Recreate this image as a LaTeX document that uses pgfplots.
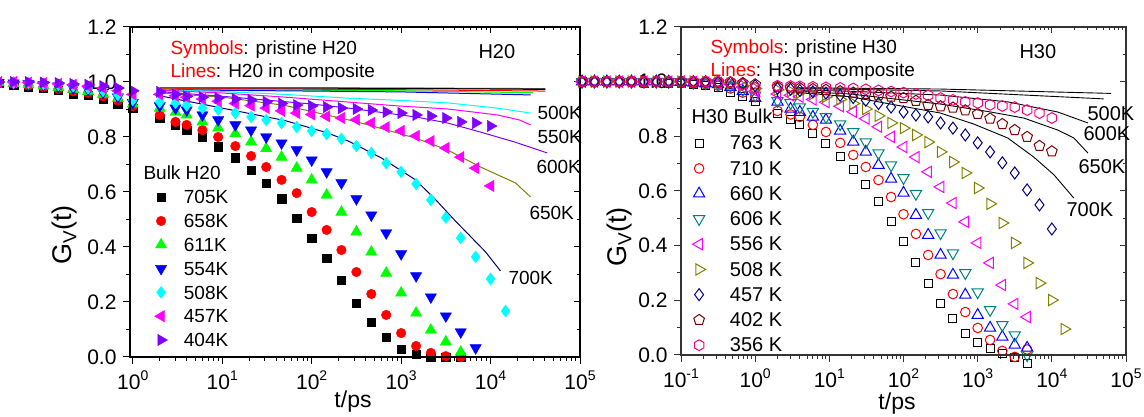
\documentclass[border=0pt]{standalone}
\usepackage{fontspec}
\setmainfont{Liberation Sans}
\usepackage{pgfplots}
\pgfplotsset{compat=1.18}
\usetikzlibrary{plotmarks}

\definecolor{violetO}{RGB}{128,0,255}
\definecolor{tealO}{RGB}{0,128,128}
\definecolor{oliveO}{RGB}{128,128,0}
\definecolor{navyO}{RGB}{0,0,128}
\definecolor{wineO}{RGB}{128,0,0}
\definecolor{pinkO}{RGB}{255,0,128}
\definecolor{greenO}{RGB}{0,255,0}
\definecolor{cyanO}{RGB}{0,255,255}
\definecolor{magO}{RGB}{255,0,255}

% open hexagon marker
\pgfdeclareplotmark{hexagon}{%
  \pgfpathmoveto{\pgfqpointpolar{90}{\pgfplotmarksize}}%
  \pgfpathlineto{\pgfqpointpolar{150}{\pgfplotmarksize}}%
  \pgfpathlineto{\pgfqpointpolar{210}{\pgfplotmarksize}}%
  \pgfpathlineto{\pgfqpointpolar{270}{\pgfplotmarksize}}%
  \pgfpathlineto{\pgfqpointpolar{330}{\pgfplotmarksize}}%
  \pgfpathlineto{\pgfqpointpolar{30}{\pgfplotmarksize}}%
  \pgfpathclose\pgfusepathqstroke}

\newcommand\fTick{\fontsize{21bp}{21bp}\selectfont}
\newcommand\fLeg{\fontsize{19bp}{19bp}\selectfont}
\newcommand\fLegR{\fontsize{20bp}{20bp}\selectfont}
\newcommand\fLab{\fontsize{23bp}{23bp}\selectfont}
\newcommand\fYLab{\fontsize{27bp}{27bp}\selectfont}
\newcommand\dec[1]{10\raisebox{9.5bp}{\fontsize{14bp}{14bp}\selectfont #1}}

\begin{document}
\begin{tikzpicture}
\useasboundingbox (0,0) rectangle (1144bp,417bp);

% ---------------- left panel: H20 ----------------
\begin{axis}[scale only axis, xmode=log, clip=false,
  at={(130bp,60bp)}, anchor=south west,
  width=450bp, height=330bp, xmin=0.93, xmax=1e5, ymin=0, ymax=1.2,
  axis line style={line width=1.3bp},
  every tick/.style={black, line width=1bp},
  major tick length=7bp, minor tick length=4bp,
  xtick pos=left, ytick pos=left, tick align=outside,
  ytick={0,0.2,0.4,0.6,0.8,1.0,1.2},
  minor ytick={0.1,0.3,0.5,0.7,0.9,1.1},
  yticklabels={0.0,0.2,0.4,0.6,0.8,1.0,1.2},
  xtick={1,10,100,1000,10000,100000},
  xticklabels={\dec{0},\dec{1},\dec{2},\dec{3},\dec{4},\dec{5}},
  minor xtick={2,3,4,5,6,7,8,9,20,30,40,50,60,70,80,90,200,300,400,500,600,700,800,900,2000,3000,4000,5000,6000,7000,8000,9000,20000,30000,40000,50000,60000,70000,80000,90000},
  tick label style={font=\fTick},
  xticklabel style={yshift=-3bp}, yticklabel style={xshift=-3bp},
  legend cell align=left,
  legend style={at={(0.0542,0.5067)}, anchor=north west, draw=none, fill=none,
    inner sep=0pt, font=\fLeg, row sep=4.8bp, column sep=16.3bp,
    nodes={inner sep=0pt, text height=14bp, text depth=5bp}},
  legend image post style={yshift=2.3bp}]

\addplot[only marks, mark=square*, mark size=4.2bp, black] coordinates {
(0.0316,0.995)(0.0464,0.99)(0.0681,0.98)(0.1,0.978)(0.147,0.971)(0.215,0.955)(0.316,0.953)(0.464,0.937)(0.681,0.92)(1,0.904)
(2,0.869)(3,0.844)(4,0.825)(6,0.80)(9,0.764)(14,0.724)(21,0.68)(31,0.633)(46,0.575)(68,0.505)(100,0.433)(147,0.36)(215,0.28)(316,0.196)(464,0.127)(681,0.073)(1000,0.029)(1470,0.011)(2150,0.0)(3160,0.0)(4640,0.0)};
\addlegendentry{705K}
\addplot[only marks, mark=*, mark size=4.8bp, red] coordinates {
(0.0316,0.997)(0.0464,0.993)(0.0681,0.987)(0.1,0.982)(0.147,0.975)(0.215,0.966)(0.316,0.96)(0.464,0.948)(0.681,0.933)(1,0.912)
(2,0.88)(3,0.855)(4,0.844)(6,0.825)(9,0.80)(14,0.767)(21,0.731)(31,0.691)(46,0.644)(68,0.596)(100,0.527)(147,0.462)(215,0.389)(316,0.309)(464,0.229)(681,0.153)(1000,0.087)(1470,0.04)(2150,0.015)(3160,0.003)(4640,0.0)};
\addlegendentry{658K}
\addplot[only marks, mark=triangle*, mark size=6.5bp, greenO] coordinates {
(0.0316,0.998)(0.0464,0.995)(0.0681,0.99)(0.1,0.986)(0.147,0.98)(0.215,0.973)(0.316,0.966)(0.464,0.956)(0.681,0.94)(1,0.92)
(2,0.905)(3,0.89)(4,0.88)(6,0.855)(9,0.833)(14,0.812)(21,0.782)(31,0.758)(46,0.727)(68,0.687)(100,0.644)(147,0.589)(215,0.527)(316,0.455)(464,0.382)(681,0.305)(1000,0.233)(1470,0.16)(2150,0.098)(3160,0.055)(4640,0.018)};
\addlegendentry{611K}
\addplot[only marks, mark=triangle*, mark size=6.5bp, mark options={rotate=180}, blue] coordinates {
(0.0316,0.998)(0.0464,0.996)(0.0681,0.993)(0.1,0.99)(0.147,0.985)(0.215,0.978)(0.316,0.972)(0.464,0.962)(0.681,0.945)(1,0.925)
(2,0.913)(3,0.905)(4,0.898)(6,0.88)(9,0.862)(14,0.844)(21,0.825)(31,0.80)(46,0.778)(68,0.753)(100,0.716)(147,0.673)(215,0.633)(316,0.575)(464,0.516)(681,0.451)(1000,0.375)(1470,0.295)(2150,0.218)(3160,0.149)(4640,0.091)(6810,0.033)};
\addlegendentry{554K}
\addplot[only marks, mark=diamond*, mark size=6bp, cyanO] coordinates {
(0.0316,1.0)(0.0464,0.998)(0.0681,0.996)(0.1,0.993)(0.147,0.99)(0.215,0.985)(0.316,0.978)(0.464,0.968)(0.681,0.953)(1,0.935)
(2,0.927)(3,0.924)(4,0.915)(6,0.905)(9,0.9)(14,0.887)(21,0.873)(31,0.862)(46,0.851)(68,0.836)(100,0.822)(147,0.811)(215,0.793)(316,0.767)(464,0.742)(681,0.705)(1000,0.673)(1470,0.629)(2150,0.571)(3160,0.507)(4640,0.433)(6810,0.364)(10000,0.284)(14700,0.167)};
\addlegendentry{508K}
\addplot[only marks, mark=triangle*, mark size=6.5bp, mark options={rotate=90}, magO] coordinates {
(0.0316,1.0)(0.0464,1.0)(0.0681,0.998)(0.1,0.996)(0.147,0.993)(0.215,0.99)(0.316,0.985)(0.464,0.978)(0.681,0.968)(1,0.955)
(2,0.955)(3,0.95)(4,0.945)(6,0.938)(9,0.93)(14,0.922)(21,0.914)(31,0.905)(46,0.895)(68,0.887)(100,0.882)(147,0.875)(215,0.869)(316,0.863)(464,0.851)(681,0.836)(1000,0.822)(1470,0.804)(2150,0.785)(3160,0.76)(4640,0.727)(6810,0.687)(10000,0.622)};
\addlegendentry{457K}
\addplot[only marks, mark=triangle*, mark size=6.5bp, mark options={rotate=-90}, violetO] coordinates {
(0.0316,1.0)(0.0464,1.0)(0.0681,1.0)(0.1,0.998)(0.147,0.996)(0.215,0.993)(0.316,0.99)(0.464,0.985)(0.681,0.978)(1,0.968)
(2,0.964)(3,0.955)(4,0.948)(6,0.945)(9,0.942)(14,0.938)(21,0.935)(31,0.928)(46,0.922)(68,0.916)(100,0.913)(147,0.909)(215,0.905)(316,0.902)(464,0.898)(681,0.891)(1000,0.887)(1470,0.88)(2150,0.876)(3160,0.869)(4640,0.855)(6810,0.851)(10000,0.84)};
\addlegendentry{404K}

% composite curves
\addplot[forget plot, no marks, black!70, line width=1bp] coordinates {(2,0.979)(1000,0.978)(41000,0.976)};
\addplot[forget plot, no marks, black, line width=1bp] coordinates {(2,0.978)(1000,0.977)(41000,0.973)};
\addplot[forget plot, no marks, red, line width=1bp] coordinates {(2,0.976)(1000,0.972)(41000,0.967)};
\addplot[forget plot, no marks, greenO, line width=1bp] coordinates {(2,0.974)(1000,0.968)(30000,0.961)};
\addplot[forget plot, no marks, blue, line width=1bp] coordinates {(2,0.972)(1000,0.964)(28000,0.953)};
\addplot[forget plot, no marks, cyanO, line width=1bp] coordinates {(2,0.972)(10,0.965)(50,0.955)(258,0.941)(1000,0.933)(3300,0.924)(12000,0.905)(28000,0.887)};
\addplot[forget plot, no marks, magO, line width=1bp] coordinates {(2,0.97)(10,0.96)(50,0.945)(258,0.927)(920,0.913)(3300,0.902)(12000,0.88)(21000,0.862)(28000,0.844)};
\addplot[forget plot, no marks, violetO, line width=1bp] coordinates {(2,0.965)(10,0.948)(100,0.92)(258,0.905)(1450,0.873)(3300,0.851)(7700,0.818)(18500,0.782)(43000,0.742)};
\addplot[forget plot, no marks, oliveO, line width=1bp] coordinates {(2,0.96)(10,0.945)(50,0.915)(258,0.862)(430,0.844)(1450,0.796)(3300,0.753)(7700,0.691)(19000,0.633)(28000,0.582)};
\addplot[forget plot, no marks, navyO, line width=1bp] coordinates {(2,0.95)(10,0.905)(50,0.86)(150,0.815)(258,0.785)(600,0.724)(1450,0.644)(2450,0.571)(3950,0.498)(8800,0.382)(12900,0.313)};
\end{axis}
% inward ticks on the top and right edges
\begin{axis}[scale only axis, xmode=log,
  at={(130bp,60bp)}, anchor=south west,
  width=450bp, height=330bp, xmin=0.93, xmax=1e5, ymin=0, ymax=1.2,
  axis line style={line width=1.3bp},
  every tick/.style={black, line width=1bp},
  major tick length=6bp, minor tick length=3bp,
  xtick pos=right, ytick pos=right, tick align=inside,
  ytick={0,0.2,0.4,0.6,0.8,1.0,1.2},
  minor ytick={0.1,0.3,0.5,0.7,0.9,1.1},
  xtick={1,10,100,1000,10000,100000},
  minor xtick={2,3,4,5,6,7,8,9,20,30,40,50,60,70,80,90,200,300,400,500,600,700,800,900,2000,3000,4000,5000,6000,7000,8000,9000,20000,30000,40000,50000,60000,70000,80000,90000},
  xticklabels={}, yticklabels={}]
\end{axis}

% ---------------- right panel: H30 ----------------
\begin{axis}[scale only axis, xmode=log, clip=false,
  at={(681bp,62bp)}, anchor=south west,
  width=445bp, height=328bp, xmin=0.1, xmax=1e5, ymin=0, ymax=1.2,
  axis line style={line width=1.3bp, black!80},
  every tick/.style={black!80, line width=1bp},
  major tick length=7bp, minor tick length=4bp,
  xtick pos=left, ytick pos=left, tick align=outside,
  ytick={0,0.2,0.4,0.6,0.8,1.0,1.2},
  minor ytick={0.1,0.3,0.5,0.7,0.9,1.1},
  yticklabels={0.0,0.2,0.4,0.6,0.8,1.0,1.2},
  xtick={0.1,1,10,100,1000,10000,100000},
  xticklabels={\dec{-1},\dec{0},\dec{1},\dec{2},\dec{3},\dec{4},\dec{5}},
  minor xtick={0.2,0.3,0.4,0.5,0.6,0.7,0.8,0.9,2,3,4,5,6,7,8,9,20,30,40,50,60,70,80,90,200,300,400,500,600,700,800,900,2000,3000,4000,5000,6000,7000,8000,9000,20000,30000,40000,50000,60000,70000,80000,90000},
  tick label style={font=\fTick},
  xticklabel style={yshift=-3bp}, yticklabel style={xshift=-3bp},
  legend cell align=left,
  legend style={at={(0.0256,0.6683)}, anchor=north west, draw=none, fill=none,
    inner sep=0pt, font=\fLegR, row sep=6.25bp, column sep=24.3bp,
    nodes={inner sep=0pt, text height=14bp, text depth=5bp}},
  legend image post style={yshift=2.3bp}]

\addplot[only marks, line width=1bp, mark=square, mark size=4bp, black] coordinates {
(0.00464,1.0)(0.00681,1.0)(0.01,1.0)(0.0147,1.0)(0.0215,1.0)(0.0316,0.998)(0.0464,0.997)(0.0681,0.995)(0.1,0.993)(0.147,0.99)(0.215,0.985)(0.316,0.977)(0.464,0.962)(0.681,0.944)(1,0.926)
(2,0.885)(3,0.86)(4,0.842)(6,0.812)(9,0.772)(14,0.725)(21,0.677)(31,0.622)(46,0.56)(68,0.49)(100,0.417)(147,0.34)(215,0.26)(316,0.19)(464,0.132)(681,0.08)(1000,0.044)(1470,0.022)(2150,0.007)(3160,-0.01)(4640,-0.03)};
\addlegendentry{763 K}
\addplot[only marks, line width=1bp, mark=o, mark size=4.8bp, red] coordinates {
(0.00464,1.0)(0.00681,1.0)(0.01,1.0)(0.0147,1.0)(0.0215,1.0)(0.0316,1.0)(0.0464,0.999)(0.0681,0.998)(0.1,0.996)(0.147,0.993)(0.215,0.99)(0.316,0.985)(0.464,0.975)(0.681,0.96)(1,0.945)
(2,0.893)(3,0.88)(4,0.871)(6,0.842)(9,0.816)(14,0.776)(21,0.732)(31,0.688)(46,0.64)(68,0.578)(100,0.515)(147,0.443)(215,0.366)(316,0.296)(464,0.223)(681,0.157)(1000,0.099)(1470,0.055)(2150,0.015)(3160,-0.007)(4640,0.02)};
\addlegendentry{710 K}
\addplot[only marks, line width=1bp, mark=triangle, mark size=6.5bp, blue] coordinates {
(0.00464,1.0)(0.00681,1.0)(0.01,1.0)(0.0147,1.0)(0.0215,1.0)(0.0316,1.0)(0.0464,1.0)(0.0681,0.999)(0.1,0.998)(0.147,0.996)(0.215,0.993)(0.316,0.99)(0.464,0.98)(0.681,0.965)(1,0.94)
(2,0.926)(3,0.9)(4,0.889)(6,0.871)(9,0.86)(14,0.82)(21,0.78)(31,0.743)(46,0.695)(68,0.644)(100,0.593)(147,0.512)(215,0.439)(316,0.366)(464,0.293)(681,0.22)(1000,0.146)(1470,0.099)(2150,0.066)(3160,0.037)(4640,0.026)};
\addlegendentry{660 K}
\addplot[only marks, line width=1bp, mark=triangle, mark size=6.5bp, mark options={rotate=180}, tealO] coordinates {
(0.00464,1.0)(0.00681,1.0)(0.01,1.0)(0.0147,1.0)(0.0215,1.0)(0.0316,1.0)(0.0464,1.0)(0.0681,1.0)(0.1,0.999)(0.147,0.997)(0.215,0.995)(0.316,0.99)(0.464,0.985)(0.681,0.97)(1,0.95)
(2,0.93)(3,0.922)(4,0.907)(6,0.89)(9,0.871)(14,0.845)(21,0.816)(31,0.779)(46,0.739)(68,0.695)(100,0.648)(147,0.59)(215,0.52)(316,0.446)(464,0.373)(681,0.3)(1000,0.23)(1470,0.165)(2150,0.11)(3160,0.073)(4640,0.0)};
\addlegendentry{606 K}
\addplot[only marks, line width=1bp, mark=triangle, mark size=6.5bp, mark options={rotate=90}, magO] coordinates {
(0.00464,1.0)(0.00681,1.0)(0.01,1.0)(0.0147,1.0)(0.0215,1.0)(0.0316,1.0)(0.0464,1.0)(0.0681,1.0)(0.1,1.0)(0.147,0.999)(0.215,0.997)(0.316,0.995)(0.464,0.99)(0.681,0.98)(1,0.965)
(2,0.955)(3,0.95)(4,0.945)(6,0.935)(9,0.925)(14,0.91)(21,0.89)(31,0.865)(46,0.835)(68,0.798)(100,0.761)(147,0.724)(215,0.67)(316,0.615)(464,0.556)(681,0.487)(1000,0.41)(1470,0.337)(2150,0.256)(3160,0.187)(4640,0.139)};
\addlegendentry{556 K}
\addplot[only marks, line width=1bp, mark=triangle, mark size=6.5bp, mark options={rotate=-90}, oliveO] coordinates {
(0.00464,1.0)(0.00681,1.0)(0.01,1.0)(0.0147,1.0)(0.0215,1.0)(0.0316,1.0)(0.0464,1.0)(0.0681,1.0)(0.1,1.0)(0.147,1.0)(0.215,0.999)(0.316,0.997)(0.464,0.993)(0.681,0.985)(1,0.975)
(2,0.97)(3,0.965)(4,0.96)(6,0.955)(9,0.945)(14,0.935)(21,0.92)(31,0.9)(46,0.875)(68,0.849)(100,0.83)(147,0.805)(215,0.779)(316,0.743)(464,0.706)(681,0.666)(1000,0.611)(1470,0.553)(2150,0.483)(3160,0.41)(4640,0.337)(6810,0.263)(10000,0.201)(14700,0.095)};
\addlegendentry{508 K}
\addplot[only marks, line width=1bp, mark=diamond, mark size=6bp, navyO] coordinates {
(0.00464,1.0)(0.00681,1.0)(0.01,1.0)(0.0147,1.0)(0.0215,1.0)(0.0316,1.0)(0.0464,1.0)(0.0681,1.0)(0.1,1.0)(0.147,1.0)(0.215,1.0)(0.316,0.998)(0.464,0.996)(0.681,0.992)(1,0.985)
(2,0.975)(3,0.972)(4,0.968)(6,0.963)(9,0.958)(14,0.95)(21,0.942)(31,0.932)(46,0.92)(68,0.907)(100,0.889)(147,0.878)(215,0.871)(316,0.849)(464,0.83)(681,0.805)(1000,0.776)(1470,0.743)(2150,0.703)(3160,0.666)(4640,0.604)(6810,0.549)(10000,0.461)};
\addlegendentry{457 K}
\addplot[only marks, line width=1bp, mark=pentagon, mark size=5.6bp, wineO] coordinates {
(0.00464,1.0)(0.00681,1.0)(0.01,1.0)(0.0147,1.0)(0.0215,1.0)(0.0316,1.0)(0.0464,1.0)(0.0681,1.0)(0.1,1.0)(0.147,1.0)(0.215,1.0)(0.316,1.0)(0.464,0.998)(0.681,0.995)(1,0.99)
(2,0.98)(3,0.978)(4,0.976)(6,0.973)(9,0.97)(14,0.965)(21,0.96)(31,0.955)(46,0.95)(68,0.945)(100,0.94)(147,0.93)(215,0.915)(316,0.91)(464,0.905)(681,0.895)(1000,0.882)(1470,0.865)(2150,0.845)(3160,0.823)(4640,0.798)(6810,0.765)(10000,0.745)};
\addlegendentry{402 K}
\addplot[only marks, line width=1bp, mark=hexagon, mark size=5.4bp, pinkO] coordinates {
(0.00464,1.0)(0.00681,1.0)(0.01,1.0)(0.0147,1.0)(0.0215,1.0)(0.0316,1.0)(0.0464,1.0)(0.0681,1.0)(0.1,1.0)(0.147,1.0)(0.215,1.0)(0.316,1.0)(0.464,0.998)(0.681,0.99)(1,0.977)
(2,0.985)(3,0.984)(4,0.983)(6,0.981)(9,0.979)(14,0.977)(21,0.975)(31,0.972)(46,0.968)(68,0.964)(100,0.96)(147,0.955)(215,0.95)(316,0.94)(464,0.933)(681,0.926)(1000,0.922)(1470,0.915)(2150,0.911)(3160,0.907)(4640,0.896)(6810,0.885)(10000,0.867)};
\addlegendentry{356 K}

% composite curves
\addplot[forget plot, no marks, black, line width=0.9bp] coordinates {(3.7,0.978)(19,0.976)(316,0.973)(63000,0.957)};
\addplot[forget plot, no marks, black, line width=0.9bp] coordinates {(3.7,0.975)(19,0.972)(316,0.966)(50000,0.937)};
\addplot[forget plot, no marks, black, line width=0.9bp] coordinates {(3.7,0.97)(19,0.965)(316,0.951)(2540,0.926)(12000,0.889)(30600,0.849)};
\addplot[forget plot, no marks, black, line width=0.9bp] coordinates {(3.7,0.965)(19,0.955)(316,0.918)(1500,0.889)(4170,0.867)(12000,0.823)(19800,0.794)(30600,0.739)};
\addplot[forget plot, no marks, black, line width=0.9bp] coordinates {(3.7,0.96)(19,0.945)(316,0.885)(884,0.845)(2540,0.794)(5710,0.724)(10700,0.659)(19800,0.574)};
\end{axis}
% inward ticks on the top and right edges
\begin{axis}[scale only axis, xmode=log,
  at={(681bp,62bp)}, anchor=south west,
  width=445bp, height=328bp, xmin=0.1, xmax=1e5, ymin=0, ymax=1.2,
  axis line style={line width=1.3bp, black!80},
  every tick/.style={black!80, line width=1bp},
  major tick length=6bp, minor tick length=3bp,
  xtick pos=right, ytick pos=right, tick align=inside,
  ytick={0,0.2,0.4,0.6,0.8,1.0,1.2},
  minor ytick={0.1,0.3,0.5,0.7,0.9,1.1},
  xtick={0.1,1,10,100,1000,10000,100000},
  minor xtick={0.2,0.3,0.4,0.5,0.6,0.7,0.8,0.9,2,3,4,5,6,7,8,9,20,30,40,50,60,70,80,90,200,300,400,500,600,700,800,900,2000,3000,4000,5000,6000,7000,8000,9000,20000,30000,40000,50000,60000,70000,80000,90000},
  xticklabels={}, yticklabels={}]
\end{axis}

% ---------------- texts ----------------
\node[rotate=90, font=\fYLab] at (65bp,182bp) {G\textsubscript{V}(t)};
\node[anchor=base, font=\fLab] at (353bp,10bp) {t/ps};
\node[anchor=base west, font=\fLeg] at (167bp,362bp) {\textcolor{red}{Symbols}: pristine H20};
\node[anchor=base west, font=\fLeg] at (167bp,339bp) {\textcolor{red}{Lines}: H20 in composite};
\node[anchor=base west, font=\fLegR] at (475bp,358bp) {H20};
\node[anchor=base west, font=\fLeg] at (140bp,237bp) {Bulk H20};
\node[anchor=base west, font=\fLeg] at (534bp,297bp) {500K};
\node[anchor=base west, font=\fLeg] at (534bp,273bp) {550K};
\node[anchor=base west, font=\fLeg] at (533bp,243bp) {600K};
\node[anchor=base west, font=\fLeg] at (526bp,197bp) {650K};
\node[anchor=base west, font=\fLeg] at (505bp,132bp) {700K};

\node[rotate=90, font=\fYLab] at (620bp,180bp) {G\textsubscript{V}(t)};
\node[anchor=base, font=\fLab] at (897bp,8bp) {t/ps};
\node[anchor=base west, font=\fLeg] at (707bp,363bp) {\textcolor{red}{Symbols}: pristine H30};
\node[anchor=base west, font=\fLeg] at (707bp,340bp) {\textcolor{red}{Lines}: H30 in composite};
\node[anchor=base west, font=\fLegR] at (1016bp,358bp) {H30};
\node[anchor=base west, font=\fLegR] at (688bp,293bp) {H30 Bulk};
\node[anchor=base west, font=\fLegR] at (1084bp,296bp) {500K};
\node[anchor=base west, font=\fLegR] at (1080bp,276bp) {600K};
\node[anchor=base west, font=\fLegR] at (1075bp,243bp) {650K};
\node[anchor=base west, font=\fLegR] at (1063bp,200bp) {700K};
\end{tikzpicture}
\end{document}
